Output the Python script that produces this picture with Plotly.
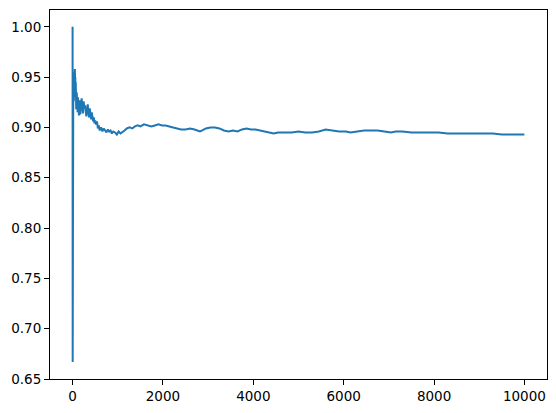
import plotly.graph_objects as go

# running mean
steps = [0, 1, 2, 3, 4, 5, 6, 7, 8, 10, 12, 15, 18, 22, 26, 30, 35, 40, 45, 50,
         55, 60, 65, 70, 80, 90, 100, 110, 120, 130, 140, 150, 160, 170, 180, 190,
         200, 215, 230, 245, 260, 275, 290, 305, 320, 335, 350, 365, 380, 395, 410,
         425, 440, 455, 470, 485, 500, 520, 540, 560, 580, 600, 630, 660, 690, 720,
         750, 780, 810, 840, 870, 900, 940, 980, 1020, 1060, 1100, 1150, 1200, 1260,
         1320, 1380, 1440, 1500, 1580, 1660, 1740, 1820, 1900, 1980, 2060, 2140,
         2220, 2300, 2400, 2500, 2600, 2700, 2780, 2820, 2870, 2950, 3050, 3150,
         3250, 3350, 3450, 3550, 3650, 3750, 3850, 3950, 4050, 4150, 4250, 4350,
         4450, 4550, 4700, 4850, 5000, 5150, 5300, 5450, 5600, 5750, 5900, 6050,
         6150, 6300, 6450, 6600, 6750, 6900, 7050, 7150, 7300, 7500, 7700, 7900,
         8100, 8300, 8500, 8700, 8900, 9100, 9300, 9500, 9700, 9999]
mean_value = [1.0, 1.0, 0.667, 0.75, 0.8, 0.833, 0.857, 0.875, 0.889, 0.909, 0.923,
              0.938, 0.947, 0.955, 0.926, 0.935, 0.944, 0.951, 0.935, 0.958,
              0.948, 0.950, 0.930, 0.945, 0.918, 0.935, 0.928, 0.915, 0.930, 0.922,
              0.912, 0.920, 0.927, 0.913, 0.918, 0.925, 0.929, 0.921, 0.914, 0.926,
              0.919, 0.922, 0.916, 0.911, 0.918, 0.923, 0.915, 0.910, 0.919, 0.913,
              0.908, 0.915, 0.911, 0.906, 0.910, 0.904, 0.907, 0.903, 0.906, 0.899,
              0.902, 0.897, 0.900, 0.896, 0.899, 0.897, 0.895, 0.898, 0.896, 0.897,
              0.894, 0.896, 0.895, 0.893, 0.896, 0.894, 0.895, 0.897, 0.899, 0.900,
              0.899, 0.901, 0.902, 0.901, 0.903, 0.902, 0.901, 0.902, 0.903, 0.902,
              0.902, 0.901, 0.900, 0.899, 0.898, 0.898, 0.899, 0.898, 0.897, 0.896,
              0.897, 0.899, 0.900, 0.900, 0.899, 0.897, 0.896, 0.897, 0.896, 0.898,
              0.899, 0.898, 0.898, 0.897, 0.896, 0.895, 0.894, 0.895, 0.895, 0.895,
              0.896, 0.895, 0.895, 0.896, 0.898, 0.897, 0.896, 0.896, 0.895, 0.896,
              0.897, 0.897, 0.897, 0.896, 0.895, 0.896, 0.896, 0.895, 0.895, 0.895,
              0.895, 0.894, 0.894, 0.894, 0.894, 0.894, 0.894, 0.893, 0.893, 0.893]

x_ticks = [0, 2000, 4000, 6000, 8000, 10000]
x_labels = ["0", "2000", "4000", "6000", "8000", "10000"]
y_ticks = [0.65, 0.70, 0.75, 0.80, 0.85, 0.90, 0.95, 1.00]

fig = go.Figure()
fig.add_trace(go.Scatter(x=steps, y=mean_value, mode="lines",
                         line=dict(color="#1f77b4", width=2)))

axis_style = dict(showline=True, linecolor="black", linewidth=1, mirror=True,
                  ticks="outside", ticklen=5, tickwidth=1, tickcolor="black",
                  showgrid=False, zeroline=False,
                  tickfont=dict(family="DejaVu Sans", size=13.5, color="black"))

# page body adds an 8px offset, so margins are shifted to compensate
fig.update_layout(
    width=556, height=413,
    margin=dict(l=42, r=17, t=2, b=42),
    plot_bgcolor="white", paper_bgcolor="white",
    showlegend=False,
    xaxis=dict(range=[-500, 10500], tickvals=x_ticks, ticktext=x_labels, **axis_style),
    yaxis=dict(range=[0.65, 1.0167], tickvals=y_ticks, tickformat=".2f", **axis_style),
)

fig.write_html("out.html")
